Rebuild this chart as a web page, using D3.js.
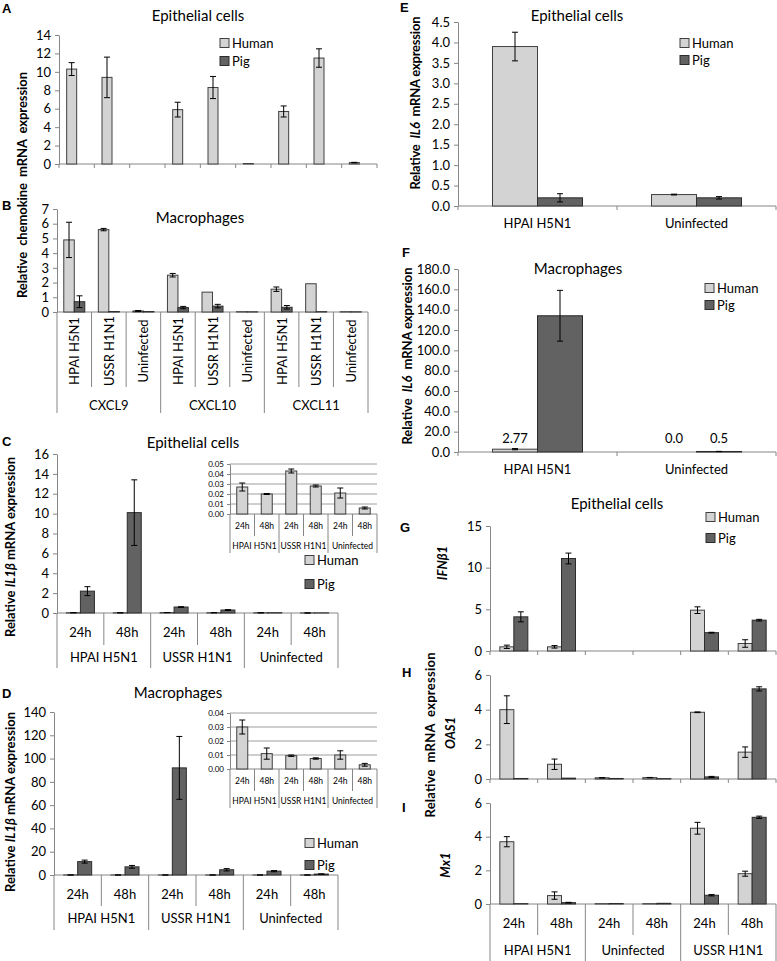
<!DOCTYPE html>
<html lang="en">
<head>
<meta charset="UTF-8">
<title>Chemokine, IL1b, IL6 and IFN expression</title>
<script src="https://cdn.jsdelivr.net/npm/d3@7/dist/d3.min.js"></script>
<style>
  body { margin: 0; background: #fff; }
  svg { display: block; font-family: Lato, "Liberation Sans", sans-serif; }
  text { white-space: pre; }
  .axis path, .axis line { stroke: #868686; }
  .axis text { fill: #000; }
</style>
</head>
<body>
<script>
// ---- categories ----
const seriesNames = ['Human', 'Pig'];
const viruses = ['HPAI H5N1', 'USSR H1N1', 'Uninfected'];
const chemokines = ['CXCL9', 'CXCL10', 'CXCL11'];
const hours = ['24h', '48h'];
const il6Groups = ['HPAI H5N1', 'Uninfected'];
const ifnGroups = ['HPAI H5N1', 'Uninfected', 'USSR H1N1'];

// A - epithelial chemokines (CXCL9, CXCL10, CXCL11 x virus)
const aHuman    = [10.3, 9.4, 0, 5.9, 8.3, 0.05, 5.7, 11.5, 0.15];
const aHumanErr = [0.7, 2.2, 0, 0.8, 1.2, 0, 0.6, 1.0, 0.03];
const aPig      = [0, 0, 0, 0, 0, 0, 0, 0, 0];
const aPigErr   = [0, 0, 0, 0, 0, 0, 0, 0, 0];

// B - macrophage chemokines
const bHuman    = [4.9, 5.6, 0.07, 2.5, 1.35, 0.02, 1.55, 1.92, 0.02];
const bHumanErr = [1.2, 0.08, 0.03, 0.12, 0, 0, 0.15, 0, 0];
const bPig      = [0.7, 0.03, 0.03, 0.3, 0.4, 0.01, 0.32, 0.02, 0.01];
const bPigErr   = [0.4, 0, 0, 0.08, 0.12, 0, 0.12, 0, 0];

// C - epithelial IL1b (virus x time)
const cHuman    = [0.027, 0.020, 0.043, 0.028, 0.021, 0.006];
const cHumanErr = [0.004, 0.0005, 0.002, 0.001, 0.005, 0.001];
const cPig      = [2.2, 10.1, 0.6, 0.3, 0.03, 0.01];
const cPigErr   = [0.45, 3.3, 0.03, 0.04, 0, 0];

// D - macrophage IL1b
const dHuman    = [0.030, 0.011, 0.0095, 0.0075, 0.010, 0.003];
const dHumanErr = [0.005, 0.004, 0.0005, 0.0005, 0.003, 0.001];
const dPig      = [11.5, 7.0, 92, 4.5, 3.3, 0.8];
const dPigErr   = [1.3, 1.2, 27, 1.0, 0.5, 0.1];

// E - epithelial IL6
const eHuman    = [3.9, 0.28];
const eHumanErr = [0.35, 0.01];
const ePig      = [0.2, 0.2];
const ePigErr   = [0.1, 0.03];

// F - macrophage IL6
const fHuman    = [2.77, 0.0];
const fHumanErr = [0.6, 0];
const fPig      = [134, 0.5];
const fPigErr   = [25, 0.1];
const fHumanLabels = ['2.77', '0.0'];
const fPigLabels   = ['', '0.5'];

// G, H, I - epithelial IFNb1, OAS1, Mx1 (virus x time)
const gHuman    = [0.5, 0.5, 0, 0, 4.9, 0.9];
const gHumanErr = [0.2, 0.15, 0, 0, 0.4, 0.45];
const gPig      = [4.1, 11.1, 0, 0, 2.2, 3.7];
const gPigErr   = [0.6, 0.65, 0, 0, 0.05, 0.1];

const hHuman    = [4.0, 0.85, 0.07, 0.08, 3.85, 1.55];
const hHumanErr = [0.8, 0.3, 0.01, 0.01, 0.02, 0.3];
const hPig      = [0.03, 0.05, 0.03, 0.02, 0.12, 5.2];
const hPigErr   = [0, 0, 0, 0, 0.03, 0.12];

const iHuman    = [3.7, 0.5, 0.02, 0.02, 4.5, 1.8];
const iHumanErr = [0.3, 0.22, 0, 0, 0.35, 0.15];
const iPig      = [0.02, 0.08, 0.03, 0.04, 0.52, 5.15];
const iPigErr   = [0, 0.02, 0, 0, 0.04, 0.07];

// ---- styling ----
const fills   = {Human: '#d3d3d3', Pig: '#626262'};
const strokes = {Human: '#404040', Pig: '#2c2c2c'};
const axisGray = '#868686';

const svg = d3.select('body').append('svg')
    .attr('width', 777)
    .attr('height', 961);

// cross product of outer x inner labels -> flat category list
function cross(outer, inner) {
    return d3.cross(outer, inner, (o, i) => o + '|' + i);
}

// one bar panel: y axis, bars, error bars, baseline
function barPanel(p) {
    const g = svg.append('g');
    const n = p.n;
    const x = d3.scaleBand().domain(d3.range(n)).range([p.x0, p.x1]);
    const y = d3.scaleLinear().domain([0, p.max]).range([p.y0, p.y1]);
    const names = p.series.map(s => s.name);
    const sub = d3.scaleBand().domain(names)
        .range([-p.barW * names.length / 2, p.barW * names.length / 2]);
    const ticks = d3.range(0, p.max + p.step / 2, p.step);

    if (p.grid) {
        g.append('g').selectAll('line').data(ticks.slice(1)).join('line')
            .attr('x1', p.x0).attr('x2', p.x1)
            .attr('y1', d => y(d)).attr('y2', d => y(d))
            .attr('stroke', axisGray).attr('stroke-width', 0.8);
    }

    g.append('g').attr('class', 'axis')
        .attr('transform', `translate(${p.x0},0)`)
        .call(d3.axisLeft(y).tickValues(ticks).tickFormat(d3.format(p.fmt))
            .tickSize(p.tickLen || 4).tickSizeOuter(0).tickPadding(p.pad || 4))
        .attr('font-family', null)
        .attr('font-size', p.font);

    // baseline
    g.append('line')
        .attr('x1', p.x0).attr('x2', p.x1)
        .attr('y1', p.y0).attr('y2', p.y0)
        .attr('stroke', axisGray);

    // small ticks at category boundaries
    if (p.catTicks) {
        g.append('g').selectAll('line').data(d3.range(n + 1)).join('line')
            .attr('x1', i => i < n ? x(i) : p.x1).attr('x2', i => i < n ? x(i) : p.x1)
            .attr('y1', p.y0).attr('y2', p.y0 + 4)
            .attr('stroke', axisGray);
    }

    p.series.forEach(s => {
        const rows = s.vals.map((v, i) => ({i, v, e: s.errs ? s.errs[i] : 0}));
        const cx = d => x(d.i) + x.bandwidth() / 2 + sub(s.name);
        g.append('g').selectAll('rect').data(rows.filter(d => d.v > 0)).join('rect')
            .attr('x', cx)
            .attr('y', d => y(d.v))
            .attr('width', sub.bandwidth())
            .attr('height', d => p.y0 - y(d.v))
            .attr('fill', fills[s.name])
            .attr('stroke', strokes[s.name])
            .attr('stroke-width', 1);

        const errs = rows.filter(d => d.e > 0);
        const eg = g.append('g').attr('stroke', '#000').attr('stroke-width', 1);
        const mid = d => cx(d) + sub.bandwidth() / 2;
        eg.selectAll('.v').data(errs).join('line').attr('class', 'v')
            .attr('x1', mid).attr('x2', mid)
            .attr('y1', d => y(d.v + d.e)).attr('y2', d => y(Math.max(d.v - d.e, 0)));
        eg.selectAll('.t').data(errs).join('line').attr('class', 't')
            .attr('x1', d => mid(d) - 3).attr('x2', d => mid(d) + 3)
            .attr('y1', d => y(d.v + d.e)).attr('y2', d => y(d.v + d.e));
        eg.selectAll('.b').data(errs.filter(d => d.v - d.e > 0)).join('line').attr('class', 'b')
            .attr('x1', d => mid(d) - 3).attr('x2', d => mid(d) + 3)
            .attr('y1', d => y(d.v - d.e)).attr('y2', d => y(d.v - d.e));

        if (s.labels) {
            g.append('g').selectAll('text').data(rows).join('text')
                .attr('x', d => mid(d))
                .attr('y', p.labelY)
                .attr('text-anchor', 'middle')
                .attr('font-size', p.font)
                .text(d => s.labels[d.i]);
        }
    });
    return {g, x, y};
}

// two-level category axis (inner labels + group labels + separators)
function twoLevel(panel, p, inner, groups, o) {
    const {g, x} = panel;
    const k = inner.length;
    const n = k * groups.length;
    const bw = x.bandwidth();
    const edges = d3.range(n + 1).map(i => i < n ? x(i) : p.x1);
    g.append('g').selectAll('line').data(edges).join('line')
        .attr('x1', d => d).attr('x2', d => d)
        .attr('y1', p.y0)
        .attr('y2', (d, i) => i % k === 0 ? o.groupEnd : o.innerEnd)
        .attr('stroke', axisGray);
    g.append('g').selectAll('text').data(d3.range(n)).join('text')
        .attr('transform', i => o.rotate
            ? `translate(${x(i) + bw / 2},${o.innerY}) rotate(-90)`
            : `translate(${x(i) + bw / 2},${o.innerY})`)
        .attr('text-anchor', 'middle')
        .attr('dominant-baseline', 'central')
        .attr('font-size', o.innerFont)
        .text(i => inner[i % k]);
    g.append('g').selectAll('text').data(groups).join('text')
        .attr('x', (d, j) => x(j * k) + bw * k / 2)
        .attr('y', o.groupY)
        .attr('text-anchor', 'middle')
        .attr('dominant-baseline', 'central')
        .attr('font-size', o.groupFont)
        .text(d => d);
}

function simpleLabels(panel, labels, yy, size) {
    const {g, x} = panel;
    g.append('g').selectAll('text').data(labels).join('text')
        .attr('x', (d, i) => x(i) + x.bandwidth() / 2)
        .attr('y', yy)
        .attr('text-anchor', 'middle')
        .attr('dominant-baseline', 'central')
        .attr('font-size', size)
        .text(d => d);
}

function title(cx, cy, txt) {
    svg.append('text').attr('x', cx).attr('y', cy)
        .attr('text-anchor', 'middle').attr('dominant-baseline', 'central')
        .attr('font-size', 15).text(txt);
}

function letter(x, y, txt) {
    svg.append('text').attr('x', x).attr('y', y)
        .attr('font-family', '"Liberation Sans", Arial, sans-serif')
        .attr('font-weight', 'bold').attr('font-size', 13).text(txt);
}

function yTitle(cx, cy, parts, len) {
    const t = svg.append('text')
        .attr('transform', `translate(${cx},${cy}) rotate(-90)`)
        .attr('text-anchor', 'middle').attr('dominant-baseline', 'central')
        .attr('font-weight', 'bold').attr('font-size', 13);
    parts.forEach(pt => t.append('tspan')
        .attr('font-style', pt.i ? 'italic' : null).text(pt.t));
    if (len) t.attr('textLength', len).attr('lengthAdjust', 'spacing');
}

function legend(x, yH, yP) {
    [['Human', yH], ['Pig', yP]].forEach(([name, yy]) => {
        svg.append('rect').attr('x', x).attr('y', yy - 4.5)
            .attr('width', 9).attr('height', 9)
            .attr('fill', fills[name]).attr('stroke', strokes[name]);
        svg.append('text').attr('x', x + 12).attr('y', yy)
            .attr('dominant-baseline', 'central').attr('font-size', 13).text(name);
    });
}

function two(hv, he, pv, pe) {
    return [{name: 'Human', vals: hv, errs: he}, {name: 'Pig', vals: pv, errs: pe}];
}

// ---------- A ----------
const chemoCats = cross(chemokines, viruses);
const pA = {n: chemoCats.length, x0: 59, x1: 377, y0: 164, y1: 35, max: 14, step: 2, fmt: 'd',
    font: 13, barW: 10, catTicks: true, series: two(aHuman, aHumanErr, aPig, aPigErr)};
barPanel(pA);
letter(2, 13, 'A');
title(198, 15, 'Epithelial cells');
legend(220, 43, 61);

// ---------- B ----------
const pB = {n: chemoCats.length, x0: 57, x1: 368, y0: 312, y1: 209, max: 7, step: 1, fmt: 'd',
    font: 13, barW: 10.5, series: two(bHuman, bHumanErr, bPig, bPigErr)};
const panelB = barPanel(pB);
twoLevel(panelB, pB, viruses, chemokines,
    {innerY: 351, groupY: 405, innerEnd: 387, groupEnd: 413, rotate: true, innerFont: 13, groupFont: 13});
letter(2, 210, 'B');
title(200, 217, 'Macrophages');
yTitle(22, 185, [{t: 'Relative  chemokine  mRNA  expression'}], 226);

// ---------- C ----------
const il1Cats = cross(viruses, hours);
const pC = {n: il1Cats.length, x0: 57, x1: 338, y0: 613, y1: 454, max: 16, step: 2, fmt: 'd',
    font: 13, barW: 14, series: two(cHuman, cHumanErr, cPig, cPigErr)};
const panelC = barPanel(pC);
twoLevel(panelC, pC, hours, viruses,
    {innerY: 632, groupY: 657, innerEnd: 645, groupEnd: 668, innerFont: 13, groupFont: 13});
letter(2, 446, 'C');
title(193, 442, 'Epithelial cells');
legend(305, 560, 584);
yTitle(10, 547, [{t: 'Relative '}, {t: 'IL1β', i: true}, {t: ' mRNA expression'}], 180);

const pCi = {n: il1Cats.length, x0: 230, x1: 377, y0: 514, y1: 464, max: 0.05, step: 0.01, fmt: '.2f',
    font: 8, barW: 11, grid: true, tickLen: 3, pad: 3, series: [{name: 'Human', vals: cHuman, errs: cHumanErr}]};
const panelCi = barPanel(pCi);
twoLevel(panelCi, pCi, hours, viruses,
    {innerY: 526, groupY: 546, innerEnd: 536, groupEnd: 553, innerFont: 8.5, groupFont: 8.5});

// ---------- D ----------
const pD = {n: il1Cats.length, x0: 54, x1: 338, y0: 875, y1: 712, max: 140, step: 20, fmt: 'd',
    font: 13, barW: 14, series: two(dHuman, dHumanErr, dPig, dPigErr)};
const panelD = barPanel(pD);
twoLevel(panelD, pD, hours, viruses,
    {innerY: 894, groupY: 918, innerEnd: 906, groupEnd: 930, innerFont: 13, groupFont: 13});
letter(2, 698, 'D');
title(178, 692, 'Macrophages');
legend(305, 843, 865);
yTitle(10, 802, [{t: 'Relative '}, {t: 'IL1β', i: true}, {t: ' mRNA expression'}], 180);

const pDi = {n: il1Cats.length, x0: 230, x1: 377, y0: 769, y1: 713, max: 0.04, step: 0.01, fmt: '.2f',
    font: 8, barW: 11, grid: true, tickLen: 3, pad: 3, series: [{name: 'Human', vals: dHuman, errs: dHumanErr}]};
const panelDi = barPanel(pDi);
twoLevel(panelDi, pDi, hours, viruses,
    {innerY: 781, groupY: 801, innerEnd: 791, groupEnd: 808, innerFont: 8.5, groupFont: 8.5});

// ---------- E ----------
const pE = {n: il6Groups.length, x0: 458, x1: 776, y0: 206, y1: 22, max: 4.5, step: 0.5, fmt: '.1f',
    font: 13, barW: 45, catTicks: true, series: two(eHuman, eHumanErr, ePig, ePigErr)};
const panelE = barPanel(pE);
simpleLabels(panelE, il6Groups, 223, 13);
letter(400, 12, 'E');
title(577, 15, 'Epithelial cells');
legend(680, 43, 60);
yTitle(415, 103, [{t: 'Relative  '}, {t: 'IL6', i: true}, {t: '  mRNA expression'}], 173);

// ---------- F ----------
const pF = {n: il6Groups.length, x0: 458, x1: 776, y0: 452, y1: 269, max: 180, step: 20, fmt: '.1f',
    font: 13, barW: 45, catTicks: true, labelY: 443,
    series: [{name: 'Human', vals: fHuman, errs: fHumanErr, labels: fHumanLabels},
             {name: 'Pig', vals: fPig, errs: fPigErr, labels: fPigLabels}]};
const panelF = barPanel(pF);
simpleLabels(panelF, il6Groups, 469, 13);
letter(402, 257, 'F');
title(578, 268, 'Macrophages');
legend(705, 288, 305);
yTitle(407, 356, [{t: 'Relative  '}, {t: 'IL6', i: true}, {t: '  mRNA expression'}], 177);

// ---------- G, H, I ----------
const ifnCats = cross(ifnGroups, hours);
const pG = {n: ifnCats.length, x0: 490, x1: 776, y0: 651, y1: 526, max: 15, step: 5, fmt: 'd',
    font: 13, barW: 14, catTicks: true, series: two(gHuman, gHumanErr, gPig, gPigErr)};
barPanel(pG);
letter(400, 532, 'G');
title(617, 503, 'Epithelial cells');
legend(706, 517, 538);
yTitle(442, 563, [{t: 'IFNβ1', i: true}]);

const pH = {n: ifnCats.length, x0: 490, x1: 776, y0: 779, y1: 675, max: 6, step: 2, fmt: 'd',
    font: 13, barW: 14, catTicks: true, series: two(hHuman, hHumanErr, hPig, hPigErr)};
barPanel(pH);
letter(402, 677, 'H');
yTitle(450, 733, [{t: 'OAS1', i: true}]);

const pI = {n: ifnCats.length, x0: 490, x1: 776, y0: 904, y1: 803, max: 6, step: 2, fmt: 'd',
    font: 13, barW: 14, series: two(iHuman, iHumanErr, iPig, iPigErr)};
const panelI = barPanel(pI);
twoLevel(panelI, pI, hours, ifnGroups,
    {innerY: 923, groupY: 950, innerEnd: 935, groupEnd: 961, innerFont: 13, groupFont: 13});
letter(402, 812, 'I');
yTitle(445, 865, [{t: 'Mx1', i: true}]);

yTitle(430, 735, [{t: 'Relative  mRNA  expression'}], 165);
</script>
</body>
</html>
